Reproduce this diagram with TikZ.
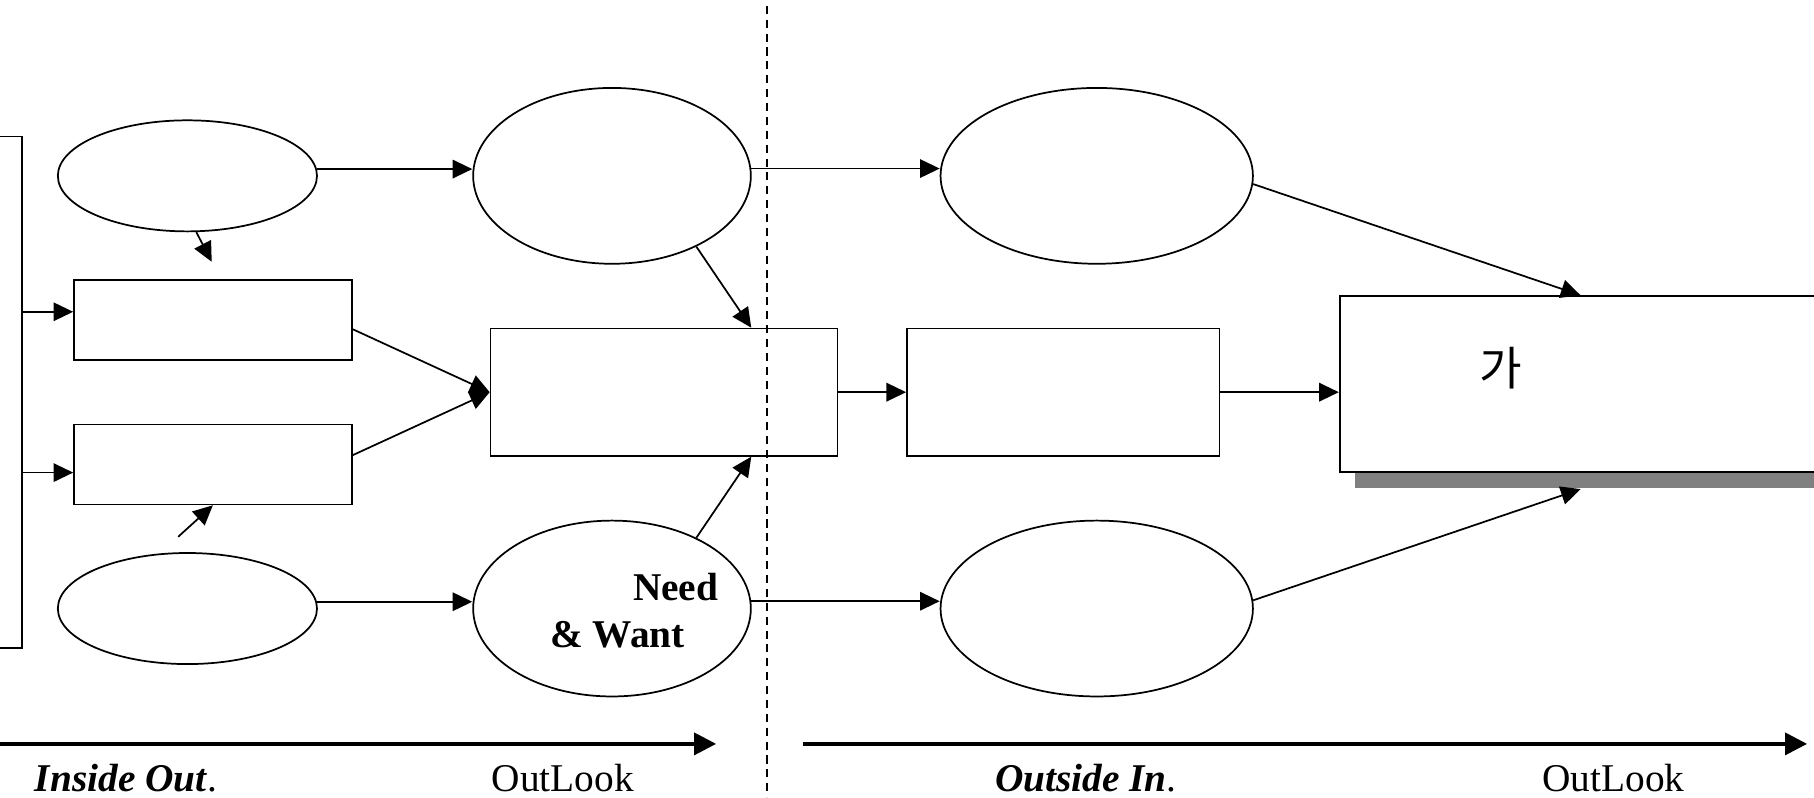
\documentclass[tikz,border=0pt]{standalone}
\usepackage{fontspec}
\setmainfont{Liberation Serif}
\newfontfamily\krfont{Noto Sans CJK KR}
\usetikzlibrary{arrows.meta,shapes.geometric,shadows,calc}
\begin{document}
\begin{tikzpicture}[x=1pt,y=-1pt,
  ln/.style={line width=1.5pt},
  arr/.style={ln,-{Triangle[length=17pt,width=16pt]}},
  bigarr/.style={line width=3pt,-{Triangle[length=19pt,width=19pt]}},
  ell/.style={ellipse,draw,line width=1.5pt,inner sep=0pt},
  box/.style={rectangle,draw,line width=1.5pt,inner sep=0pt,fill=white},
  lbl/.style={inner sep=0pt,font=\fontsize{34}{40}\selectfont},
  blbl/.style={inner sep=0pt,font=\fontsize{34}{40}\selectfont\bfseries}
]
\useasboundingbox (0,0) rectangle (1568,689);

% ellipses
\node[ell,minimum width=224pt,minimum height=96pt] (A) at (162,152) {};
\node[ell,minimum width=240pt,minimum height=152pt] (B) at (529,152) {};
\node[ell,minimum width=270pt,minimum height=152pt] (C) at (948,152) {};
\node[ell,minimum width=224pt,minimum height=96pt] (D) at (162,526) {};
\node[ell,minimum width=240pt,minimum height=152pt] (E) at (529,526) {};
\node[ell,minimum width=270pt,minimum height=152pt] (F) at (948,526) {};

% boxes
\node[box,minimum width=29pt,minimum height=442pt] (L) at (4.5,339) {};
\node[box,minimum width=240pt,minimum height=69pt] (R1) at (184,276.5) {};
\node[box,minimum width=240pt,minimum height=69pt] (R2) at (184,401.5) {};
\node[box,minimum width=300pt,minimum height=110pt] (M) at (574,339) {};
\node[box,minimum width=270pt,minimum height=110pt] (N) at (919,339) {};
\node[box,minimum width=442pt,minimum height=152pt,
      drop shadow={shadow xshift=13pt,shadow yshift=-14pt,fill=black!50,opacity=1}] (G) at (1379,332) {};
\node[inner sep=0pt,font=\krfont\fontsize{40}{48}\selectfont] (ga) at (1297,318) {가};

% labels in ellipse E
\node[blbl,anchor=base east] (need) at (621,519) {Need};
\node[blbl,anchor=base east] (want) at (592,560) {\& Want};

% connectors
\coordinate (r1in) at ([yshift=7pt]R1.west);
\coordinate (r2in) at ([yshift=-7pt]R2.west);
\draw[arr] (L.east |- r1in) -- (r1in);
\draw[arr] (L.east |- r2in) -- (r2in);
\draw[arr] ([yshift=-8pt]R1.east) -- (M.west);
\draw[arr] ([yshift=8pt]R2.east) -- (M.west);
\draw[arr] (A.3) -- (B.west |- A.3);
\draw[arr] (B.3) -- (C.west |- B.3);
\draw[arr] (D.3) -- (E.west |- D.3);
\draw[arr] (E.3) -- (F.west |- E.3);
\draw[arr] (B.-40) -- ($(M.north west)!0.75!(M.north east)$);
\draw[arr] (E.40) -- ($(M.south west)!0.75!(M.south east)$);
\draw[arr] (M.east) -- (N.west);
\draw[arr] (N.east) -- (G.west |- N.east);
\draw[arr] (C.-3) -- ($(G.north west)+(209,0)$);
\draw[arr] (F.3) -- ($(G.south west)+(209,14)$);
\coordinate (a1) at ([shift={(-1,-15)}]R1.north);
\draw[arr] (A.-81) -- (a1);
\coordinate (d1) at (154,464);
\draw[arr] (d1) -- (R2.south);

% dashed divider
\coordinate (dtop) at (663,5);
\coordinate (dbot) at (663,689);
\draw[line width=1.3pt,dash pattern=on 7pt off 5pt] (dtop) -- (dbot);

% bottom axes
\coordinate (ax1s) at (-5,643);
\coordinate (ax1e) at (619,643);
\coordinate (ax2s) at (694,643);
\coordinate (ax2e) at (1562,643);
\draw[bigarr] (ax1s) -- (ax1e);
\draw[bigarr] (ax2s) -- (ax2e);

\node[lbl,anchor=base west] (io) at (30,684) {\textbf{\textit{Inside Out}}.};
\node[lbl,anchor=base west] (ol1) at (425,684) {OutLook};
\node[lbl,anchor=base west] (oi) at (860,684) {\textbf{\textit{Outside In}}.};
\node[lbl,anchor=base west] (ol2) at (1333,684) {OutLook};
\end{tikzpicture}
\end{document}
